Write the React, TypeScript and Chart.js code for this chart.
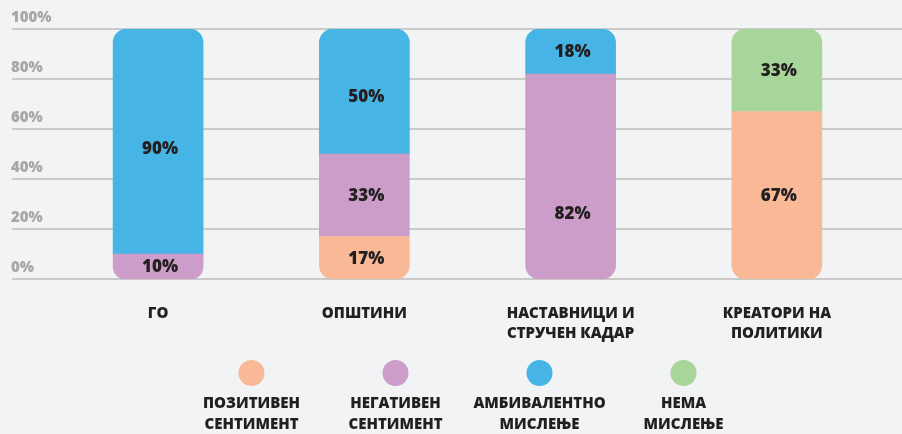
import React, { useEffect, useRef } from "react";
import { Chart, registerables } from "chart.js";

Chart.register(...registerables);

const categories: string[][] = [
  ["ГО"],
  ["ОПШТИНИ"],
  ["НАСТАВНИЦИ И", "СТРУЧЕН КАДАР"],
  ["КРЕАТОРИ НА", "ПОЛИТИКИ"],
];
const seriesNames: string[][] = [
  ["ПОЗИТИВЕН", "СЕНТИМЕНТ"],
  ["НЕГАТИВЕН", "СЕНТИМЕНТ"],
  ["АМБИВАЛЕНТНО", "МИСЛЕЊЕ"],
  ["НЕМА", "МИСЛЕЊЕ"],
];
const positive: (number | null)[] = [null, 17, null, 67];
const negative: (number | null)[] = [10, 33, 82, null];
const ambivalent: (number | null)[] = [90, 50, 18, null];
const noOpinion: (number | null)[] = [null, null, null, 33];
const yTicks: number[] = [0, 20, 40, 60, 80, 100];
const colors = ["#f9b896", "#cc9dc8", "#47b4e6", "#a8d59a"];

const allSeries = [positive, negative, ambivalent, noOpinion];
const FONT = "'Open Sans', 'Liberation Sans', Arial, sans-serif";
const DARK = "#231f20";

// label placement style: fraction of the segment height (from its top) where the label sits
const labelAnchor: Record<string, number> = { "1:2": 0.68, "2:0": 0.53, "2:1": 0.54 };

function radiusFor(dsIndex: number, i: number) {
  const R = 14;
  let bottom = -1;
  let top = -1;
  allSeries.forEach((s, k) => {
    const v = s[i];
    if (v != null && v > 0) {
      if (bottom < 0) bottom = k;
      top = k;
    }
  });
  const r = { topLeft: 0, topRight: 0, bottomLeft: 0, bottomRight: 0 };
  if (dsIndex === top) {
    r.topLeft = R;
    r.topRight = R;
  }
  if (dsIndex === bottom) {
    r.bottomLeft = R;
    r.bottomRight = R;
  }
  return r;
}

const gridPlugin = {
  id: "customGrid",
  beforeDatasetsDraw(chart: any) {
    const { ctx } = chart;
    const y = chart.scales.y;
    ctx.save();
    yTicks.forEach((t) => {
      const py = y.getPixelForValue(t);
      ctx.strokeStyle = "#bcbcbc";
      ctx.lineWidth = 1.5;
      ctx.beginPath();
      ctx.moveTo(12, py);
      ctx.lineTo(chart.width, py);
      ctx.stroke();
      ctx.fillStyle = "#a7a7a7";
      ctx.font = `800 15px ${FONT}`;
      ctx.textAlign = "left";
      ctx.textBaseline = "alphabetic";
      ctx.fillText(`${t}%`, 11, py - 7);
    });
    ctx.restore();
  },
};

const labelPlugin = {
  id: "segLabels",
  afterDatasetsDraw(chart: any) {
    const { ctx } = chart;
    ctx.save();
    ctx.fillStyle = DARK;
    ctx.font = `800 17px ${FONT}`;
    ctx.textAlign = "center";
    ctx.textBaseline = "middle";
    chart.data.datasets.forEach((ds: any, di: number) => {
      const meta = chart.getDatasetMeta(di);
      meta.data.forEach((el: any, i: number) => {
        const v = ds.data[i];
        if (v == null || v <= 0) return;
        const p = el.getProps(["x", "y", "base"], true);
        const f = labelAnchor[`${di}:${i}`] ?? 0.5;
        ctx.fillText(`${v}%`, p.x + 2, p.y + (p.base - p.y) * f + 1);
      });
    });
    ctx.restore();
  },
};

const legendPlugin = {
  id: "customLegend",
  afterDraw(chart: any) {
    const { ctx, chartArea } = chart;
    const cx = (chartArea.left + chartArea.right) / 2;
    const step = 144;
    const n = chart.data.datasets.length;
    ctx.save();
    chart.data.datasets.forEach((ds: any, i: number) => {
      const x = cx + (i - (n - 1) / 2) * step;
      ctx.fillStyle = ds.backgroundColor;
      ctx.beginPath();
      ctx.arc(x, 373, 13, 0, Math.PI * 2);
      ctx.fill();
      ctx.fillStyle = DARK;
      ctx.font = `800 15px ${FONT}`;
      ctx.textAlign = "center";
      ctx.textBaseline = "middle";
      const lines: string[] = seriesNames[i];
      lines.forEach((ln, k) => {
        ctx.fillText(ln, x, 404 + k * 21);
      });
    });
    ctx.restore();
  },
};

export default function App() {
  const ref = useRef<HTMLCanvasElement | null>(null);
  useEffect(() => {
    document.body.style.margin = "0";
    document.body.style.background = "#f2f3f5";
    const canvas = ref.current!;
    const chart = new Chart(canvas, {
      type: "bar",
      data: {
        labels: categories,
        datasets: allSeries.map((s, k) => ({
          label: seriesNames[k].join(" "),
          data: s,
          backgroundColor: colors[k],
          borderWidth: 0,
          borderSkipped: false,
          barThickness: 90,
          borderRadius: (c: any) => radiusFor(k, c.dataIndex),
        })),
      },
      options: {
        animation: false,
        responsive: false,
        layout: { padding: { left: 55, right: 22, top: 29, bottom: 0 } },
        plugins: { legend: { display: false }, tooltip: { enabled: false } },
        scales: {
          x: {
            stacked: true,
            grid: { display: false, drawTicks: false },
            border: { display: false },
            ticks: {
              color: DARK,
              font: { family: FONT, size: 15, weight: "800", lineHeight: 1.3 },
              padding: 25,
              maxRotation: 0,
              autoSkip: false,
            },
            afterFit: (scale: any) => {
              scale.height = 155;
            },
          },
          y: {
            display: false,
            stacked: true,
            min: 0,
            max: 100,
          },
        },
      },
      plugins: [gridPlugin, labelPlugin, legendPlugin],
    });
    return () => chart.destroy();
  }, []);
  return (
    <div style={{ width: 902, height: 434, background: "#f2f3f5" }}>
      <canvas ref={ref} width={902} height={434} style={{ display: "block" }} />
    </div>
  );
}
